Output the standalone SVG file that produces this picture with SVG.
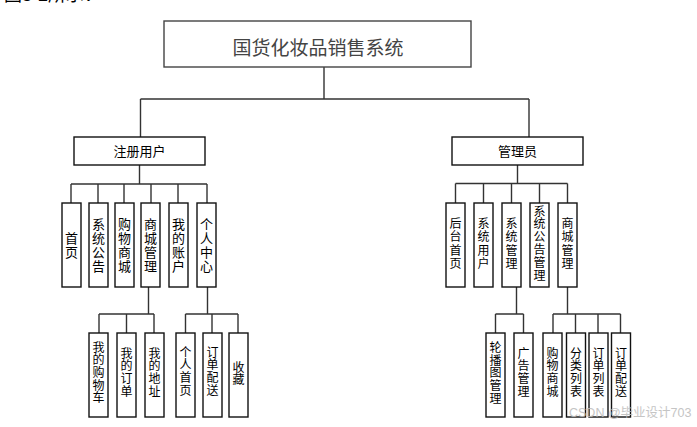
<svg xmlns="http://www.w3.org/2000/svg" width="697" height="427" viewBox="0 0 697 427">
<style>
.bg{fill:#fff}
.box{fill:#fff;stroke:#111;stroke-width:1.4}
.top{fill:#fff;stroke:#444;stroke-width:1.4}
.ln{fill:none;stroke:#333;stroke-width:1.4}
text{font-family:"Liberation Sans","Noto Sans CJK SC",sans-serif;fill:#000;text-anchor:middle;dominant-baseline:central}
.t1{font-size:19px;fill:#444}
.t2{font-size:13px}
.v13{font-size:13px}
.v12{font-size:12px}
.wm{font-size:12.5px;fill:#bbb;text-anchor:start}
.cap{font-size:18px;text-anchor:start;dominant-baseline:auto}
</style>
<rect class="bg" x="0" y="0" width="697" height="427"/>
<text class="cap" x="4" y="1">图5-2所示：</text>

<g id="connectors">
<path class="ln" d="M324 67V99M140.5 99H529M140.5 99V137M529 99V137"/>
<path class="ln" d="M139.5 165V184M71 184H207M71 184V203M98 184V203M124 184V203M151 184V203M178 184V203M207 184V203"/>
<path class="ln" d="M517.5 165V183.5M455.5 183.5H567.5M455.5 183.5V203M483.5 183.5V203M511.5 183.5V203M539.5 183.5V203M567.5 183.5V203"/>
<path class="ln" d="M148.5 287V314M99 314H154M99 314V333M126.5 314V333M154 314V333"/>
<path class="ln" d="M207.5 287V314M185.5 314H238M185.5 314V333M212 314V333M238 314V333"/>
<path class="ln" d="M516.5 287V314M495.5 314H523.5M495.5 314V333M523.5 314V333"/>
<path class="ln" d="M567.5 287V314M553 314H620.5M553 314V333M575.5 314V333M598 314V333M620.5 314V333"/>
</g>

<g id="root"><rect class="top" x="164" y="21" width="307" height="46"/><text class="t1" x="318" y="48">国货化妆品销售系统</text></g>

<g id="user"><rect class="box" x="74" y="137" width="131" height="28"/><text class="t2" x="139.5" y="151">注册用户</text></g>
<g id="admin"><rect class="box" x="452" y="137" width="131" height="28"/><text class="t2" x="517.5" y="151">管理员</text></g>

<g id="u1"><rect class="box" x="62" y="203" width="19" height="84"/><text class="v13" x="71.5"><tspan x="71.5" y="238">首</tspan><tspan x="71.5" y="252.3">页</tspan></text></g>
<g id="u2"><rect class="box" x="89" y="203" width="19" height="84"/><text class="v13"><tspan x="98.5" y="223.5">系</tspan><tspan x="98.5" y="237.8">统</tspan><tspan x="98.5" y="252.1">公</tspan><tspan x="98.5" y="266.4">告</tspan></text></g>
<g id="u3"><rect class="box" x="115" y="203" width="19" height="84"/><text class="v13"><tspan x="124.5" y="223.5">购</tspan><tspan x="124.5" y="237.8">物</tspan><tspan x="124.5" y="252.1">商</tspan><tspan x="124.5" y="266.4">城</tspan></text></g>
<g id="u4"><rect class="box" x="141" y="203" width="19" height="84"/><text class="v13"><tspan x="150.5" y="223.5">商</tspan><tspan x="150.5" y="237.8">城</tspan><tspan x="150.5" y="252.1">管</tspan><tspan x="150.5" y="266.4">理</tspan></text></g>
<g id="u5"><rect class="box" x="169" y="203" width="19" height="84"/><text class="v13"><tspan x="178.5" y="223.5">我</tspan><tspan x="178.5" y="237.8">的</tspan><tspan x="178.5" y="252.1">账</tspan><tspan x="178.5" y="266.4">户</tspan></text></g>
<g id="u6"><rect class="box" x="197" y="203" width="19" height="84"/><text class="v13"><tspan x="206.5" y="223.5">个</tspan><tspan x="206.5" y="237.8">人</tspan><tspan x="206.5" y="252.1">中</tspan><tspan x="206.5" y="266.4">心</tspan></text></g>

<g id="u41"><rect class="box" x="89" y="333" width="19" height="84"/><text class="v12"><tspan x="98.5" y="347.5">我</tspan><tspan x="98.5" y="360.2">的</tspan><tspan x="98.5" y="372.9">购</tspan><tspan x="98.5" y="385.6">物</tspan><tspan x="98.5" y="398.3">车</tspan></text></g>
<g id="u42"><rect class="box" x="117" y="333" width="19" height="84"/><text class="v12"><tspan x="126.5" y="353.5">我</tspan><tspan x="126.5" y="366.3">的</tspan><tspan x="126.5" y="379.1">订</tspan><tspan x="126.5" y="391.9">单</tspan></text></g>
<g id="u43"><rect class="box" x="145" y="333" width="19" height="84"/><text class="v12"><tspan x="154.5" y="353.5">我</tspan><tspan x="154.5" y="366.3">的</tspan><tspan x="154.5" y="379.1">地</tspan><tspan x="154.5" y="391.9">址</tspan></text></g>
<g id="u61"><rect class="box" x="176" y="333" width="19" height="84"/><text class="v12"><tspan x="185.5" y="352.5">个</tspan><tspan x="185.5" y="365.3">人</tspan><tspan x="185.5" y="378.1">首</tspan><tspan x="185.5" y="390.9">页</tspan></text></g>
<g id="u62"><rect class="box" x="203" y="333" width="19" height="84"/><text class="v12"><tspan x="212.5" y="352.5">订</tspan><tspan x="212.5" y="365.3">单</tspan><tspan x="212.5" y="378.1">配</tspan><tspan x="212.5" y="390.9">送</tspan></text></g>
<g id="u63"><rect class="box" x="229" y="333" width="19" height="84"/><text class="v12"><tspan x="238.5" y="367.5">收</tspan><tspan x="238.5" y="380.3">藏</tspan></text></g>

<g id="a1"><rect class="box" x="446" y="203" width="19" height="84"/><text class="v12"><tspan x="455.5" y="224">后</tspan><tspan x="455.5" y="237.3">台</tspan><tspan x="455.5" y="250.6">首</tspan><tspan x="455.5" y="263.9">页</tspan></text></g>
<g id="a2"><rect class="box" x="474" y="203" width="19" height="84"/><text class="v12"><tspan x="483.5" y="224">系</tspan><tspan x="483.5" y="237.3">统</tspan><tspan x="483.5" y="250.6">用</tspan><tspan x="483.5" y="263.9">户</tspan></text></g>
<g id="a3"><rect class="box" x="502" y="203" width="19" height="84"/><text class="v12"><tspan x="511.5" y="224">系</tspan><tspan x="511.5" y="237.3">统</tspan><tspan x="511.5" y="250.6">管</tspan><tspan x="511.5" y="263.9">理</tspan></text></g>
<g id="a4"><rect class="box" x="530" y="203" width="19" height="84"/><text class="v12"><tspan x="539.5" y="211.5">系</tspan><tspan x="539.5" y="224.3">统</tspan><tspan x="539.5" y="237.1">公</tspan><tspan x="539.5" y="249.9">告</tspan><tspan x="539.5" y="262.7">管</tspan><tspan x="539.5" y="275.5">理</tspan></text></g>
<g id="a5"><rect class="box" x="558" y="203" width="19" height="84"/><text class="v12"><tspan x="567.5" y="224">商</tspan><tspan x="567.5" y="237.3">城</tspan><tspan x="567.5" y="250.6">管</tspan><tspan x="567.5" y="263.9">理</tspan></text></g>

<g id="a31"><rect class="box" x="486" y="333" width="19" height="84"/><text class="v12"><tspan x="495.5" y="348">轮</tspan><tspan x="495.5" y="360.7">播</tspan><tspan x="495.5" y="373.4">图</tspan><tspan x="495.5" y="386.1">管</tspan><tspan x="495.5" y="398.8">理</tspan></text></g>
<g id="a32"><rect class="box" x="514" y="333" width="19" height="84"/><text class="v12"><tspan x="523.5" y="353.5">广</tspan><tspan x="523.5" y="366.3">告</tspan><tspan x="523.5" y="379.1">管</tspan><tspan x="523.5" y="391.9">理</tspan></text></g>
<g id="a51"><rect class="box" x="543" y="333" width="19" height="84"/><text class="v12"><tspan x="552.5" y="353.5">购</tspan><tspan x="552.5" y="366.3">物</tspan><tspan x="552.5" y="379.1">商</tspan><tspan x="552.5" y="391.9">城</tspan></text></g>
<g id="a52"><rect class="box" x="566.5" y="333" width="19" height="84"/><text class="v12"><tspan x="576" y="353.5">分</tspan><tspan x="576" y="366.3">类</tspan><tspan x="576" y="379.1">列</tspan><tspan x="576" y="391.9">表</tspan></text></g>
<g id="a53"><rect class="box" x="589" y="333" width="19" height="84"/><text class="v12"><tspan x="598.5" y="353.5">订</tspan><tspan x="598.5" y="366.3">单</tspan><tspan x="598.5" y="379.1">列</tspan><tspan x="598.5" y="391.9">表</tspan></text></g>
<g id="a54"><rect class="box" x="611.5" y="333" width="19" height="84"/><text class="v12"><tspan x="621" y="353.5">订</tspan><tspan x="621" y="366.3">单</tspan><tspan x="621" y="379.1">配</tspan><tspan x="621" y="391.9">送</tspan></text></g>

<text class="wm" x="569" y="413" opacity="0.85">CSDN @毕业设计703</text>
</svg>
